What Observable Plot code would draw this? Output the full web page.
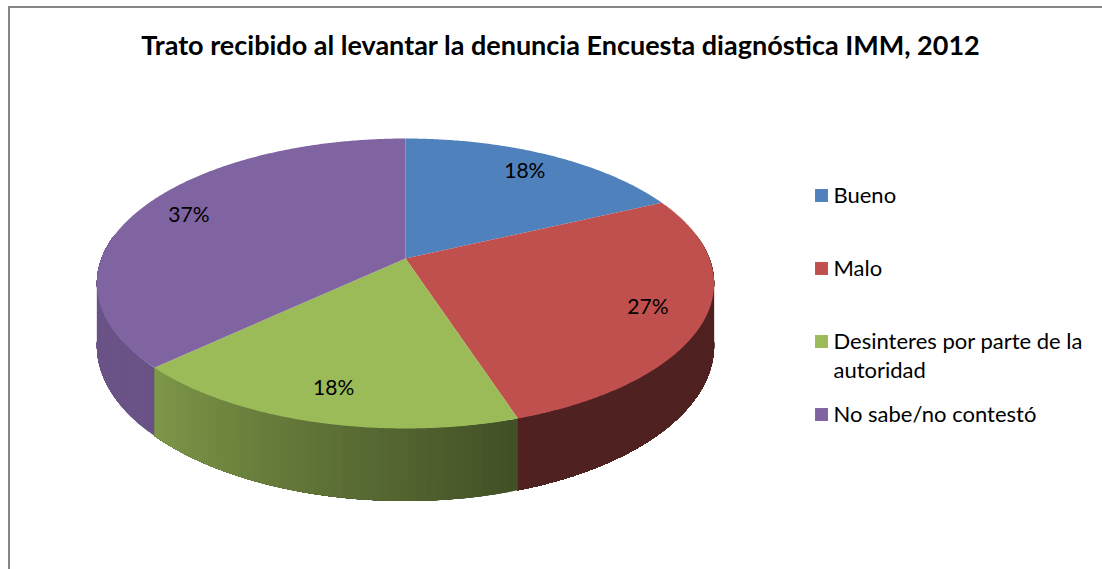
<!DOCTYPE html>
<html><head><meta charset="utf-8">
<script src="https://cdn.jsdelivr.net/npm/d3@7"></script>
<script src="https://cdn.jsdelivr.net/npm/@observablehq/plot@0.6"></script>
<style>
html,body{margin:0;padding:0;background:#fff;overflow:hidden;width:1102px;height:569px;}
#frame{position:absolute;left:8px;top:6px;width:1300px;height:800px;border:2px solid #868686;box-sizing:border-box;}
#chart{position:absolute;left:0;top:0;}
</style></head><body>
<div id="frame"></div><div id="chart"></div>
<script>
// ---- data ----
const title = "Trato recibido al levantar la denuncia Encuesta diagnóstica IMM, 2012";
const categories = ["Bueno", "Malo", "Desinteres por parte de la autoridad", "No sabe/no contestó"];
const legendLabels = ["Bueno", "Malo", "Desinteres por parte de la\nautoridad", "No sabe/no contestó"];
const values = [18, 27, 18, 37];
const colors = ["#4f81bd", "#c0504d", "#9bbb59", "#8064a2"];

// ---- 3D pie geometry (perspective disc) ----
const W = 1102, H = 569;
const cx = 405, cy = 258, a = 304, p = 96.2, k = -0.1724, depth = 60;
const DEG = Math.PI / 180;
function proj(r, t, z) {
  const u = r * Math.sin(t), v = -r * Math.cos(t), s = 1 + k * v;
  return {x: cx + a * u / s, y: (p * v + cy) / s + z * depth / s};
}
function shade(t) {
  const deg = t / DEG;
  if (deg <= 160) return 0.41;
  if (deg >= 230) return 0.83;
  return 0.41 + (deg - 160) / 70 * 0.42;
}
function darken(c, f) {
  const col = d3.rgb(c);
  return d3.rgb(col.r * f, col.g * f, col.b * f).formatHex();
}
const total = d3.sum(values);
let acc = 0;
const slices = values.map((v, i) => {
  const t0 = acc / total * 2 * Math.PI;
  acc += v;
  const t1 = acc / total * 2 * Math.PI;
  return {i, t0, t1, value: v, color: colors[i], name: categories[i]};
});

const polyPts = [];
// side bands: each band runs from its start angle to the end of the visible side of its slice,
// so later bands overlap earlier ones and no seams appear
const sideMin = 80 * DEG, sideMax = 280 * DEG;
for (const s of slices) {
  const ts = Math.max(s.t0, sideMin), te = Math.min(s.t1, sideMax);
  if (te <= ts) continue;
  const nb = Math.max(1, Math.ceil((te - ts) / (1.5 * DEG)));
  for (let j = 0; j < nb; j++) {
    const ta = ts + (te - ts) * j / nb;
    const tm = ta + (te - ts) / nb / 2;
    const col = darken(s.color, shade(tm));
    const id = `side-${s.i}-${j}`;
    const na = Math.max(2, Math.ceil((te - ta) / (0.5 * DEG)));
    const top = [], bot = [];
    for (let m = 0; m <= na; m++) {
      const t = ta + (te - ta) * m / na;
      top.push(proj(1, t, 0));
      bot.push(proj(1, t, 1));
    }
    const ring = top.concat(bot.reverse());
    ring.push(top[0]);
    for (const pt of ring) polyPts.push({id, x: pt.x, y: pt.y, fill: col});
  }
}
// top faces
for (const s of slices) {
  const id = `top-${s.i}`;
  const c = proj(0, 0, 0);
  polyPts.push({id, x: c.x, y: c.y, fill: s.color});
  const n = Math.max(2, Math.ceil((s.t1 - s.t0) / (0.5 * DEG)));
  for (let j = 0; j <= n; j++) {
    const pt = proj(1, s.t0 + (s.t1 - s.t0) * j / n, 0);
    polyPts.push({id, x: pt.x, y: pt.y, fill: s.color});
  }
  polyPts.push({id, x: c.x, y: c.y, fill: s.color});
}
const labels = slices.map(s => {
  const pt = proj(0.82, (s.t0 + s.t1) / 2, 0);
  return {x: pt.x, y: pt.y, text: `${s.value}%`};
});

// legend layout
const legendX = 821, legendTextX = 833, legendBase = 195, legendStep = 73;
const legend = legendLabels.map((t, i) => ({
  text: t, color: colors[i], y: legendBase + i * legendStep
}));

const font = "Lato, 'Liberation Sans', sans-serif";
const chart = Plot.plot({
  width: W, height: H, margin: 0,
  x: {domain: [0, W], range: [0, W], axis: null},
  y: {domain: [0, H], range: [0, H], axis: null},
  color: {type: "identity"},
  style: {background: "transparent", fontFamily: font},
  marks: [
    Plot.line(polyPts, {x: "x", y: "y", z: "id", fill: "fill", stroke: "none", curve: "linear"}),
    Plot.text(labels, {x: "x", y: "y", text: "text", fontSize: 21, fill: "#000", fontFamily: font}),
    Plot.text([title], {x: () => 560, y: () => 46, text: d => d, fontSize: 27, fontWeight: "bold", fill: "#000", fontFamily: font}),
    Plot.dot(legend, {x: () => legendX, y: "y", symbol: "square", r: 7.3, fill: "color", stroke: null}),
    Plot.text(legend, {x: () => legendTextX, y: d => d.y - 13, text: "text", textAnchor: "start", lineAnchor: "top", lineHeight: 1.32, fontSize: 22, fill: "#000", fontFamily: font})
  ]
});
document.getElementById("chart").appendChild(chart);
</script>
</body></html>
